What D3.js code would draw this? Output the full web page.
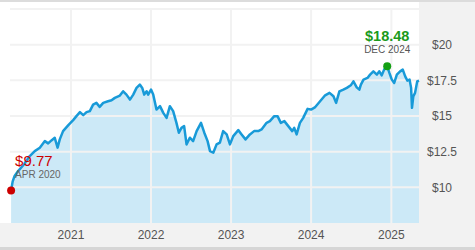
<!DOCTYPE html>
<html>
<head>
<meta charset="utf-8">
<script src="https://cdn.jsdelivr.net/npm/d3@7"></script>
<style>
  body { margin: 0; background: #fff; }
  svg { display: block; font-family: "Liberation Sans", Arial, sans-serif; }
</style>
</head>
<body>
<svg id="my-svg" width="475" height="250"></svg>
<script>
// Price history
var dates = [
  '2020-04-03','2020-04-10','2020-04-19','2020-05-05','2020-05-31','2020-06-27','2020-07-20','2020-08-12',
  '2020-09-04','2020-09-19','2020-10-04','2020-10-19','2020-11-01','2020-11-11','2020-11-26','2020-12-19',
  '2021-01-11','2021-01-26','2021-02-11','2021-02-26','2021-03-13','2021-03-28','2021-04-12','2021-04-27',
  '2021-05-12','2021-05-28','2021-06-19','2021-07-05','2021-07-20','2021-08-12','2021-08-27','2021-09-11',
  '2021-09-27','2021-10-12','2021-10-27','2021-11-11','2021-11-22','2021-12-01','2021-12-12','2021-12-19',
  '2022-01-01','2022-01-11','2022-01-26','2022-02-11','2022-02-26','2022-03-13','2022-03-28','2022-04-12',
  '2022-04-27','2022-05-08','2022-05-20','2022-06-01','2022-06-12','2022-06-27','2022-07-12','2022-07-28',
  '2022-08-17','2022-09-01','2022-09-16','2022-09-27','2022-10-12','2022-10-27','2022-11-11','2022-11-26',
  '2022-12-12','2022-12-27','2023-01-11','2023-02-03','2023-02-18','2023-03-08','2023-03-28','2023-04-16',
  '2023-05-05','2023-05-20','2023-06-12','2023-06-27','2023-07-17','2023-08-01','2023-08-16','2023-09-01',
  '2023-09-19','2023-10-07','2023-10-16','2023-10-27','2023-11-11','2023-11-26','2023-12-16','2024-01-01',
  '2024-01-18','2024-02-11','2024-03-05','2024-03-25','2024-04-12','2024-04-24','2024-05-09','2024-05-27',
  '2024-06-12','2024-06-30','2024-07-12','2024-07-27','2024-08-08','2024-08-15','2024-08-27','2024-09-14',
  '2024-09-26','2024-10-11','2024-10-27','2024-11-07','2024-11-18','2024-11-29','2024-12-13','2024-12-23',
  '2025-01-03','2025-01-14','2025-01-26','2025-02-10','2025-02-22','2025-03-05','2025-03-15','2025-03-25',
  '2025-04-01','2025-04-05','2025-04-11','2025-04-19','2025-04-29','2025-05-07'
];
var prices = [
  9.77,10.4,10.8,11.14,11.6,12.19,12.54,12.78,
  13.24,13.08,13.29,13.47,12.78,13.36,13.94,14.34,
  14.71,14.99,15.27,15.06,15.27,15.34,15.8,15.92,
  15.64,15.92,16.03,16.1,16.27,16.43,16.73,16.5,
  16.15,16.5,16.97,17.2,16.97,16.5,16.73,16.5,
  16.85,16.5,15.45,15.69,15.22,14.87,15.69,15.34,
  14.52,13.83,14.17,14.29,13.01,13.48,13.24,13.94,
  14.52,13.83,13.24,12.54,12.43,13.01,13.13,13.94,
  13.71,13.01,13.59,14.01,13.71,13.36,13.71,13.94,
  13.94,14.06,14.52,14.64,14.99,14.99,14.52,14.64,
  14.29,13.94,14.17,13.71,14.52,14.87,15.5,15.45,
  15.6,16.03,16.45,16.62,16.38,15.92,16.73,16.85,
  16.97,17.15,17.43,17.01,16.85,17.2,17.55,17.67,
  17.9,18.13,17.9,18.13,17.85,18.25,18.48,18.02,
  17.55,17.32,17.9,18.13,18.25,17.78,17.48,17.55,
  16.97,15.57,16.38,16.62,17.43,17.48
];

// Axis ticks
var yTicks = [10, 12.5, 15, 17.5, 20, 22.5];
var yLabels = ['$10', '$12.5', '$15', '$17.5', '$20', ''];
var xTicks = ['2021-01-01', '2022-01-01', '2023-01-01', '2024-01-01', '2025-01-01'];
var xLabels = ['2021', '2022', '2023', '2024', '2025'];

// Marked points
var lowLabel = {date: '2020-04-03', price: 9.77, text: '$9.77', sub: 'APR 2020'};
var highLabel = {date: '2024-12-13', price: 18.48, text: '$18.48', sub: 'DEC 2024'};

var parse = d3.timeParse('%Y-%m-%d');
var data = dates.map(function(d, i) { return {date: parse(d), price: prices[i]}; });

var svg = d3.select('#my-svg');
var plotLeft = 10, plotRight = 419, plotTop = 9, plotBottom = 223;

var x = d3.scaleTime()
    .domain([parse('2020-03-29'), parse('2025-05-07')])
    .range([plotLeft, plotRight]);
var y = d3.scaleLinear().domain([7.5, 22.5]).range([plotBottom, plotTop]);

// Frame: grey bands right and bottom, borders top and bottom
svg.append('rect').attr('x', plotRight).attr('y', 0).attr('width', 475 - plotRight).attr('height', 250).attr('fill', '#f2f2f2');
svg.append('rect').attr('x', 0).attr('y', plotBottom).attr('width', 475).attr('height', 250 - plotBottom).attr('fill', '#f2f2f2');
svg.append('rect').attr('x', 0).attr('y', 0).attr('width', 475).attr('height', 2).attr('fill', '#dcdcdc');
svg.append('rect').attr('x', 0).attr('y', 247).attr('width', 475).attr('height', 3).attr('fill', '#d6d6d6');

// Area under the line
var area = d3.area()
    .x(function(d) { return x(d.date); })
    .y0(plotBottom)
    .y1(function(d) { return y(d.price); });
svg.append('path').datum(data).attr('d', area).attr('fill', '#cce9f7');

// Grid lines
svg.selectAll('.hgrid').data(yTicks).enter().append('line')
    .attr('x1', plotLeft).attr('x2', plotRight)
    .attr('y1', function(d) { return y(d); }).attr('y2', function(d) { return y(d); })
    .attr('stroke', '#f2f2f2').attr('stroke-width', 2);
svg.selectAll('.vgrid').data(xTicks).enter().append('line')
    .attr('x1', function(d) { return x(parse(d)); }).attr('x2', function(d) { return x(parse(d)); })
    .attr('y1', plotTop).attr('y2', plotBottom)
    .attr('stroke', '#f2f2f2').attr('stroke-width', 2);

// Price line
var line = d3.line()
    .x(function(d) { return x(d.date); })
    .y(function(d) { return y(d.price); });
svg.append('path').datum(data).attr('d', line)
    .attr('fill', 'none').attr('stroke', '#189ad8').attr('stroke-width', 2.5).attr('stroke-linejoin', 'round');

// Axis labels
svg.selectAll('.ylab').data(yTicks).enter().append('text')
    .attr('x', 442).attr('y', function(d) { return y(d); }).attr('dy', '0.35em')
    .attr('text-anchor', 'middle').attr('font-size', 12).attr('fill', '#555')
    .text(function(d, i) { return yLabels[i]; });
svg.selectAll('.xlab').data(xTicks).enter().append('text')
    .attr('x', function(d) { return x(parse(d)); }).attr('y', 235).attr('dy', '0.35em')
    .attr('text-anchor', 'middle').attr('font-size', 12).attr('fill', '#555')
    .text(function(d, i) { return xLabels[i]; });

// Low point marker
var lx = x(parse(lowLabel.date)), ly = y(lowLabel.price);
svg.append('circle').attr('cx', lx).attr('cy', ly).attr('r', 4).attr('fill', '#cc0000');
svg.append('text').attr('x', lx + 4).attr('y', ly - 25).attr('font-size', 15).attr('fill', '#cc0000').text(lowLabel.text);
svg.append('text').attr('x', lx + 4).attr('y', ly - 13).attr('font-size', 10).attr('fill', '#666').text(lowLabel.sub);

// High point marker
var hx = x(parse(highLabel.date)), hy = y(highLabel.price);
svg.append('circle').attr('cx', hx).attr('cy', hy).attr('r', 4).attr('fill', '#14a014');
svg.append('text').attr('x', hx).attr('y', hy - 25).attr('text-anchor', 'middle').attr('font-size', 14.5)
    .attr('font-weight', 'bold').attr('fill', '#1a9a1a').text(highLabel.text);
svg.append('text').attr('x', hx).attr('y', hy - 13).attr('text-anchor', 'middle').attr('font-size', 10).attr('fill', '#555').text(highLabel.sub);
</script>
</body>
</html>
